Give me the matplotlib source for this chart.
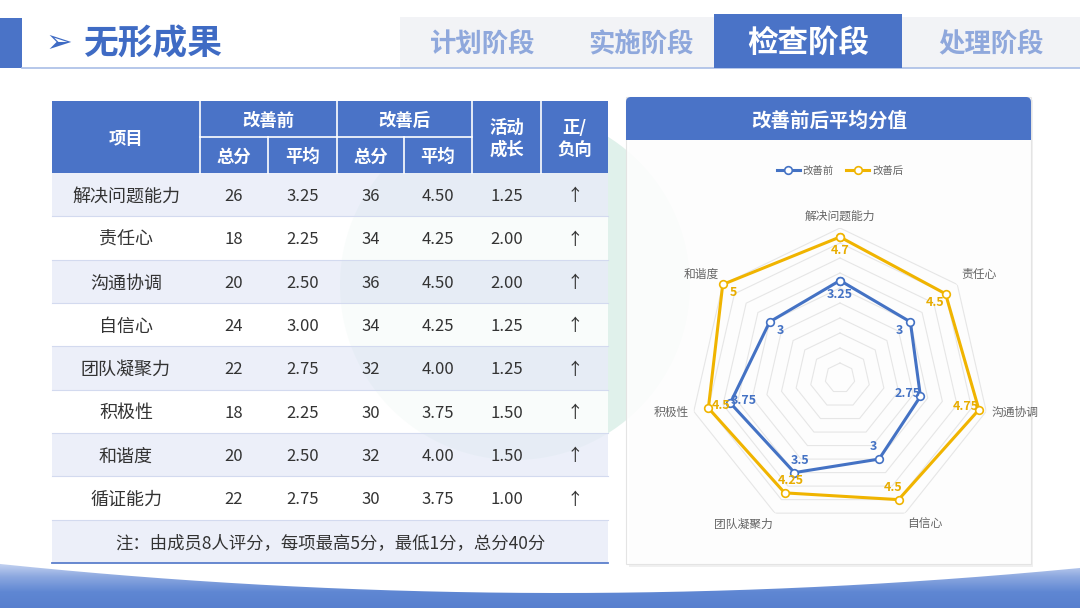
import numpy as np
import matplotlib.pyplot as plt
from matplotlib.patches import Rectangle, FancyBboxPatch, Circle, PathPatch
from matplotlib.path import Path
from matplotlib.colors import LinearSegmentedColormap

plt.rcParams['font.family'] = ['Noto Sans CJK SC', 'DejaVu Sans']

# 表格数据
items = ['解决问题能力', '责任心', '沟通协调', '自信心', '团队凝聚力', '积极性', '和谐度', '循证能力']
before_total = [26, 18, 20, 24, 22, 18, 20, 22]
before_avg = [3.25, 2.25, 2.50, 3.00, 2.75, 2.25, 2.50, 2.75]
after_total = [36, 34, 36, 34, 32, 30, 32, 30]
after_avg = [4.50, 4.25, 4.50, 4.25, 4.00, 3.75, 4.00, 3.75]
growth = [1.25, 2.00, 2.00, 1.25, 1.25, 1.50, 1.50, 1.00]
direction = ['↑'] * 8
note = '注：由成员8人评分，每项最高5分，最低1分，总分40分'

# 雷达图数据
radar_axes = ['解决问题能力', '责任心', '沟通协调', '自信心', '团队凝聚力', '积极性', '和谐度']
radar_before = [3.25, 3, 2.75, 3, 3.5, 3.75, 3]
radar_after = [4.7, 4.5, 4.75, 4.5, 4.25, 4.5, 5]
series_names = ['改善前', '改善后']

tabs = ['计划阶段', '实施阶段', '检查阶段', '处理阶段']

BLUE = '#4a73c7'
LAV = '#e8ecf8'
TXT = '#333333'
C_BEFORE = '#4472c4'
C_AFTER = '#f0b400'
DY = 2  # 中文字体的垂直微调

fig = plt.figure(figsize=(10.8, 6.08), dpi=100)
bg = fig.add_axes([0, 0, 1, 1])
bg.set_xlim(0, 1080)
bg.set_ylim(608, 0)
bg.axis('off')

# 标题栏
bg.add_patch(Rectangle((0, 18), 22, 50, fc=BLUE, ec='none'))
bg.plot([22, 1080], [68, 68], color='#a9bde6', lw=1.2)
bg.add_patch(Rectangle((400, 17), 680, 51, fc='#f2f3f6', ec='none'))
bg.add_patch(Rectangle((714, 14), 188, 54, fc=BLUE, ec='none', zorder=2))
bg.text(59, 43, '➢', color='#3f6bc4', fontsize=23, ha='center', va='center')
bg.text(84, 42 + DY, '无形成果', color='#3f6bc4', fontsize=25, fontweight='bold', ha='left', va='center')
tab_x = [483, 641, 808, 991]
for t, x in zip(tabs, tab_x):
    if t == '检查阶段':
        bg.text(x, 41 + DY, t, color='white', fontsize=22, fontweight='bold', ha='center', va='center', zorder=3)
    else:
        bg.text(x, 42 + DY, t, color='#8fa8dc', fontsize=19, fontweight='bold', ha='center', va='center')

# 背景水印
bg.add_patch(Circle((515, 285), 175, fc='#d9eee6', ec='none', alpha=0.8, zorder=0.5))

# 表格
cols = [52, 200, 268, 337, 404, 472, 541, 608]
h_top, h_mid, h_bot = 101, 137, 173
row_h = (563 - h_bot) / 9
bg.add_patch(Rectangle((cols[0], h_top), cols[-1] - cols[0], h_bot - h_top, fc=BLUE, ec='none', zorder=2))
for x in [200, 337, 472, 541]:
    bg.plot([x, x], [h_top, h_bot], color='white', lw=1.2, zorder=3)
for x in [268, 404]:
    bg.plot([x, x], [h_mid, h_bot], color='white', lw=1.2, zorder=3)
bg.plot([200, 472], [h_mid, h_mid], color='white', lw=1.2, zorder=3)

hkw = dict(color='white', fontsize=12.5, fontweight='bold', ha='center', va='center', zorder=4)
bg.text((cols[0] + cols[1]) / 2, (h_top + h_bot) / 2 + DY, '项目', **hkw)
bg.text((cols[1] + cols[3]) / 2, (h_top + h_mid) / 2 + DY, '改善前', **hkw)
bg.text((cols[3] + cols[5]) / 2, (h_top + h_mid) / 2 + DY, '改善后', **hkw)
for i, lab in enumerate(['总分', '平均', '总分', '平均']):
    bg.text((cols[1 + i] + cols[2 + i]) / 2, (h_mid + h_bot) / 2 + DY, lab, **hkw)
bg.text((cols[5] + cols[6]) / 2, (h_top + h_bot) / 2 + DY, '活动\n成长', linespacing=1.25, **hkw)
bg.text((cols[6] + cols[7]) / 2, (h_top + h_bot) / 2 + DY, '正/\n负向', linespacing=1.25, **hkw)

for i in range(9):
    y0 = h_bot + i * row_h
    fc = LAV if i % 2 == 0 else 'white'
    bg.add_patch(Rectangle((cols[0], y0), cols[-1] - cols[0], row_h, fc=fc, ec='none', alpha=0.82, zorder=1))
    if i > 0:
        bg.plot([cols[0], cols[-1]], [y0, y0], color='#d3daef', lw=0.8, zorder=2)
bg.plot([cols[0], cols[-1]], [563, 563], color='#5b7fcc', lw=1.3, zorder=2)

centers = [(cols[j] + cols[j + 1]) / 2 for j in range(7)]
for i in range(len(items)):
    yc = h_bot + (i + 0.5) * row_h + DY
    vals = [items[i], str(before_total[i]), f'{before_avg[i]:.2f}', str(after_total[i]),
            f'{after_avg[i]:.2f}', f'{growth[i]:.2f}', direction[i]]
    for j, v in enumerate(vals):
        fs = 13 if j == 0 else 12
        bg.text(centers[j], yc, v, color=TXT, fontsize=fs, ha='center', va='center', zorder=4)
bg.text((cols[0] + cols[-1]) / 2, h_bot + 8.5 * row_h + DY, note, color=TXT, fontsize=12.5,
        ha='center', va='center', zorder=4)

# 雷达卡片
bg.add_patch(Rectangle((629, 100), 404, 467, fc='#000000', ec='none', alpha=0.06, zorder=1))
bg.add_patch(Rectangle((626, 97), 405, 467, fc='white', ec='#e2e2e2', lw=0.8, alpha=0.9, zorder=1.5))
bg.add_patch(FancyBboxPatch((626, 97), 405, 43, boxstyle='round,pad=0,rounding_size=5',
                            fc=BLUE, ec='none', zorder=2))
bg.add_patch(Rectangle((626, 125), 405, 15, fc=BLUE, ec='none', zorder=2))
bg.text(829, 119 + DY, '改善前后平均分值', color='white', fontsize=14, fontweight='bold',
        ha='center', va='center', zorder=3)

# 底部波浪
gx = np.linspace(0, 1080, 200)
gy = 593 - 27 * ((gx - 560) / 540) ** 2
verts = list(zip(gx, gy)) + [(1080, 608), (0, 608)]
clip = PathPatch(Path(verts), fc='none', ec='none')
bg.add_patch(clip)
grad = np.linspace(0, 1, 100).reshape(-1, 1)
cmap = LinearSegmentedColormap.from_list('b', ['#d3def5', '#8ea9e0', '#5f87d3', '#587fce'])
im = bg.imshow(grad, extent=[0, 1080, 608, 560], aspect='auto', cmap=cmap, origin='upper', zorder=0.8)
im.set_clip_path(clip)
bg.set_xlim(0, 1080)
bg.set_ylim(608, 0)

# 雷达图
R_px = 150
cx, cy = 840, 378
rax = fig.add_axes([(cx - R_px) / 1080, (608 - cy - R_px) / 608, 2 * R_px / 1080, 2 * R_px / 608],
                   projection='polar')
rax.set_theta_offset(np.pi / 2)
rax.set_theta_direction(-1)
rax.set_ylim(0, 5)
rax.patch.set_alpha(0)
rax.spines['polar'].set_visible(False)
rax.set_xticks([])
rax.set_yticks([])
rax.grid(False)

n = len(radar_axes)
theta = np.arange(n) * 2 * np.pi / n
theta_c = np.append(theta, theta[0])
for r in np.arange(0.5, 5.01, 0.5):
    rax.plot(theta_c, [r] * (n + 1), color='#e6e6e6', lw=0.8, zorder=1)

lines = []
for vals, col, name in [(radar_before, C_BEFORE, series_names[0]), (radar_after, C_AFTER, series_names[1])]:
    v = np.append(vals, vals[0])
    ln, = rax.plot(theta_c, v, color=col, lw=2.2, marker='o', ms=5.5, mfc='white', mec=col,
                   mew=1.2, label=name, zorder=3, clip_on=False)
    lines.append(ln)

for vals, col in [(radar_before, '#4472c4'), (radar_after, '#e8ad00')]:
    for t, v in zip(theta, vals):
        rax.text(t, v - 0.45, f'{v:g}', color=col, fontsize=9, fontweight='bold',
                 ha='center', va='center', zorder=4)

for t, lab in zip(theta, radar_axes):
    s, c = np.sin(t), np.cos(t)
    ha = 'center' if abs(s) < 0.1 else ('left' if s > 0 else 'right')
    va = 'center' if abs(c) < 0.3 else ('bottom' if c > 0 else 'top')
    rax.text(t, 5.17, lab, color='#666666', fontsize=8.5, ha=ha, va=va, clip_on=False)

leg = rax.legend(handles=lines, loc='center', bbox_to_anchor=(840 / 1080, 1 - 171 / 608),
                 bbox_transform=fig.transFigure, ncol=2, frameon=False, fontsize=7.5,
                 handlelength=2.2, columnspacing=1.2, handletextpad=0.3, labelcolor='#666666')

fig.savefig('out.png', dpi=100)
